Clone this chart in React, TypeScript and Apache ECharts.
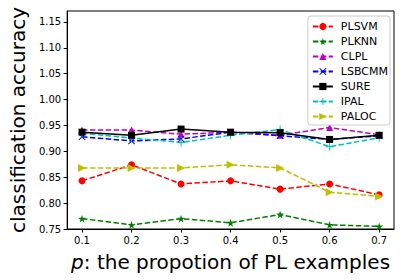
import React, { useEffect, useRef } from "react";
import * as echarts from "echarts";

const xValues = [0.1, 0.2, 0.3, 0.4, 0.5, 0.6, 0.7];
const xTicks = [0.1, 0.2, 0.3, 0.4, 0.5, 0.6, 0.7];
const yTicks = [0.75, 0.8, 0.85, 0.9, 0.95, 1.0, 1.05, 1.1, 1.15];

const plsvm = [0.843, 0.874, 0.837, 0.843, 0.827, 0.837, 0.816];
const plknn = [0.77, 0.758, 0.77, 0.762, 0.778, 0.758, 0.755];
const clpl = [0.941, 0.941, 0.933, 0.937, 0.931, 0.946, 0.932];
const lsbcmm = [0.928, 0.92, 0.924, 0.937, 0.93, 0.923, 0.93];
const sure = [0.937, 0.931, 0.943, 0.937, 0.936, 0.923, 0.931];
const ipal = [0.935, 0.926, 0.917, 0.931, 0.942, 0.909, 0.926];
const paloc = [0.868, 0.868, 0.868, 0.874, 0.868, 0.821, 0.813];

const STAR = "path://M50,0 L61,35 L98,35 L68,57 L79,91 L50,70 L21,91 L32,57 L2,35 L39,35 Z";
const XMARK = "path://M0,1 L1,0 L5,4 L9,0 L10,1 L6,5 L10,9 L9,10 L5,6 L1,10 L0,9 L4,5 Z";
const PLUS = "path://M4.4,0 L5.6,0 L5.6,4.4 L10,4.4 L10,5.6 L5.6,5.6 L5.6,10 L4.4,10 L4.4,5.6 L0,5.6 L0,4.4 L4.4,4.4 Z";
const RTRI = "path://M0,0 L10,5 L0,10 Z";

const FONT = "DejaVu Sans";

export default function App() {
  const ref = useRef<HTMLDivElement>(null);
  useEffect(() => {
    if (!ref.current) return;
    const chart = echarts.init(ref.current, null, { renderer: "svg" });
    const mk = (name: string, data: number[], color: string, symbol: string, size: number, solid = false) => ({
      name,
      type: "line",
      data: xValues.map((x, i) => [x, data[i]]),
      symbol,
      symbolSize: size,
      showSymbol: true,
      itemStyle: { color },
      lineStyle: { color, width: 1.5, type: solid ? "solid" : [5.5, 2.4] },
      z: solid ? 3 : 2,
    });
    chart.setOption({
      animation: false,
      backgroundColor: "#fff",
      textStyle: { fontFamily: FONT },
      grid: {
        left: 60,
        right: 11,
        top: 11,
        bottom: 51,
        show: true,
        borderColor: "#000",
        borderWidth: 1,
        backgroundColor: "transparent",
      },
      legend: {
        orient: "vertical",
        right: 15,
        top: 16,
        itemWidth: 20,
        itemHeight: 9,
        itemGap: 0,
        padding: [3, 2, 1, 4],
        backgroundColor: "#fff",
        borderColor: "#ccc",
        borderWidth: 1,
        borderRadius: 3,
        textStyle: { fontFamily: FONT, fontSize: 11, color: "#000", lineHeight: 15, padding: [0, 0, 0, 3] },
        data: ["PLSVM", "PLKNN", "CLPL", "LSBCMM", "SURE", "IPAL", "PALOC"],
      },
      xAxis: {
        type: "value",
        min: 0.07,
        max: 0.73,
        name: "{i|p}: the propotion of PL examples",
        nameLocation: "middle",
        nameGap: 23,
        nameTextStyle: {
          fontFamily: FONT,
          fontSize: 20,
          color: "#000",
          rich: { i: { fontFamily: FONT, fontSize: 20, fontStyle: "italic", color: "#000" } },
        },
        axisLine: { show: true, lineStyle: { color: "#000", width: 1 } },
        axisTick: { show: true, length: 3.5, lineStyle: { color: "#000" }, customValues: xTicks },
        axisLabel: {
          color: "#000",
          fontSize: 10,
          fontFamily: FONT,
          margin: 6,
          customValues: xTicks,
          formatter: (v: number) => v.toFixed(1),
        },
        splitLine: { show: false },
      },
      yAxis: {
        type: "value",
        min: 0.75,
        max: 1.171,
        name: "classification accuracy",
        nameLocation: "middle",
        nameGap: 36,
        nameTextStyle: { fontFamily: FONT, fontSize: 20, color: "#000" },
        axisLine: { show: true, lineStyle: { color: "#000", width: 1 } },
        axisTick: { show: true, length: 3.5, lineStyle: { color: "#000" }, customValues: yTicks },
        axisLabel: {
          color: "#000",
          fontSize: 10,
          fontFamily: FONT,
          margin: 6,
          customValues: yTicks,
          formatter: (v: number) => v.toFixed(2),
        },
        splitLine: { show: false },
      },
      series: [
        mk("PLSVM", plsvm, "#ff0000", "circle", 7),
        mk("PLKNN", plknn, "#008000", STAR, 8),
        mk("CLPL", clpl, "#bf00bf", "triangle", 7),
        mk("LSBCMM", lsbcmm, "#0000ff", XMARK, 7),
        mk("SURE", sure, "#000000", "rect", 7, true),
        mk("IPAL", ipal, "#00bfbf", PLUS, 8),
        mk("PALOC", paloc, "#bfbf00", RTRI, 8),
      ],
    });
    return () => chart.dispose();
  }, []);
  return <div ref={ref} style={{ width: 405, height: 280, position: "absolute", left: 0, top: 0 }} />;
}
